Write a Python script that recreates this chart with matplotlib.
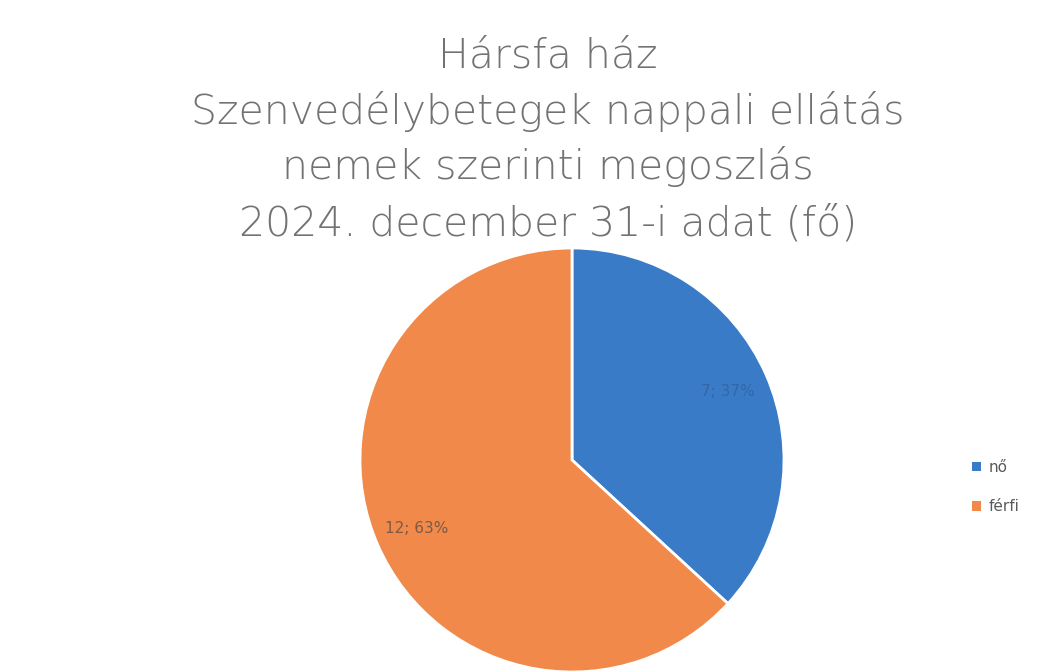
import matplotlib
matplotlib.use("Agg")
import matplotlib.pyplot as plt

categories = ["nő", "férfi"]
values = [7, 12]
colors = ["#3a7bc8", "#f0894a"]
title_lines = ["Hársfa ház",
               "Szenvedélybetegek nappali ellátás",
               "nemek szerinti megoszlás",
               "2024. december 31-i adat (fő)"]

W, H = 1046, 671
fig = plt.figure(figsize=(W / 100, H / 100), dpi=100)
fig.patch.set_facecolor("white")

cx, cy, r = 572, 460, 212
ax = fig.add_axes([(cx - r) / W, (H - cy - r) / H, 2 * r / W, 2 * r / H])
total = sum(values)

def fmt(p):
    return f"{round(p * total / 100)}; {p:.0f}%"

wedges, texts, autotexts = ax.pie(
    values, colors=colors, startangle=90, counterclock=False,
    autopct=fmt, pctdistance=0.8, radius=1,
    wedgeprops=dict(edgecolor="white", linewidth=2),
    textprops=dict(fontsize=11, family="DejaVu Sans"))
autotexts[0].set_color("#3466a6")
autotexts[1].set_color("#7d5a45")
ax.set_xlim(-1, 1)
ax.set_ylim(-1, 1)
ax.axis("off")

line_y = [68, 124, 179, 235]  # baselines in px from top
for txt, y in zip(title_lines, line_y):
    fig.text(548 / W, 1 - y / H, txt, ha="center", va="baseline",
             fontsize=29.5, color="#727272", family="DejaVu Sans",
             fontweight="light")

leg = fig.legend(wedges, categories, loc="center left",
                 bbox_to_anchor=(958 / W, 1 - 487 / H), frameon=False,
                 fontsize=11, handlelength=0.6, handleheight=0.6,
                 labelspacing=1.6, handletextpad=0.5, labelcolor="#595959")
for h in leg.legend_handles:
    h.set_edgecolor("none")

fig.savefig("out.png", dpi=100)
